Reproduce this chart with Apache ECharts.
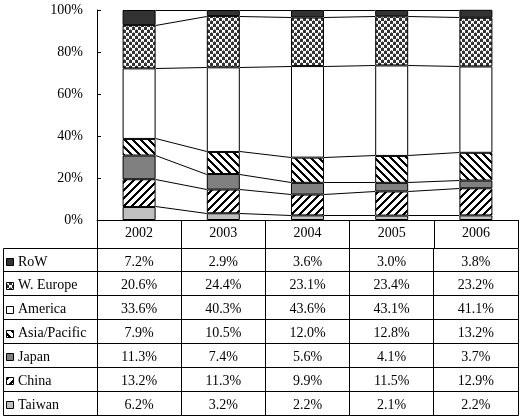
<!DOCTYPE html>
<html><head><meta charset="utf-8">
<script src="https://cdn.jsdelivr.net/npm/echarts@6/dist/echarts.min.js"></script>
<style>html,body{margin:0;padding:0;background:#fff}#c{width:523px;height:419px}</style>
</head><body><div id="c"></div>
<script>
// ---- data ----
const years = ['2002', '2003', '2004', '2005', '2006'];
const rowNames = ['RoW', 'W. Europe', 'America', 'Asia/Pacific', 'Japan', 'China', 'Taiwan'];
const RoW = [7.2, 2.9, 3.6, 3.0, 3.8];
const WEurope = [20.6, 24.4, 23.1, 23.4, 23.2];
const America = [33.6, 40.3, 43.6, 43.1, 41.1];
const AsiaPacific = [7.9, 10.5, 12.0, 12.8, 13.2];
const Japan = [11.3, 7.4, 5.6, 4.1, 3.7];
const China = [13.2, 11.3, 9.9, 11.5, 12.9];
const Taiwan = [6.2, 3.2, 2.2, 2.1, 2.2];
const yTickValues = [0, 20, 40, 60, 80, 100];

// ---- patterns ----
function makePattern(size, fn) {
  const c = document.createElement('canvas');
  c.width = c.height = size;
  const ctx = c.getContext('2d');
  const img = ctx.createImageData(size, size);
  for (let y = 0; y < size; y++) for (let x = 0; x < size; x++) {
    const v = fn(x, y);
    const o = (y * size + x) * 4;
    img.data[o] = v[0]; img.data[o + 1] = v[1]; img.data[o + 2] = v[2]; img.data[o + 3] = 255;
  }
  ctx.putImageData(img, 0, 0);
  return { image: c, repeat: 'repeat' };
}
const BLK = [0, 0, 0], WHT = [255, 255, 255], DRK = [51, 51, 51], MID = [136, 136, 136];
const patBack = makePattern(8, (x, y) => (((x - y) % 8 + 8) % 8) < 3 ? BLK : WHT);
const patFwd = makePattern(8, (x, y) => ((x + y) % 8) < 3 ? BLK : WHT);
const patDots = makePattern(6, (x, y) => {
  const bx = Math.floor(x / 3), by = Math.floor(y / 3);
  if ((bx + by) % 2 === 0) {
    const lx = x % 3, ly = y % 3;
    if (lx === 1 && ly === 2) return MID;
    return WHT;
  }
  return DRK;
});

const fills = {
  'RoW': '#333333',
  'W. Europe': patDots,
  'America': '#ffffff',
  'Asia/Pacific': patBack,
  'Japan': '#808080',
  'China': patFwd,
  'Taiwan': '#c0c0c0'
};
const rowValues = [RoW, WEurope, America, AsiaPacific, Japan, China, Taiwan];

// stacking order bottom -> top
const stackNames = ['Taiwan', 'China', 'Japan', 'Asia/Pacific', 'America', 'W. Europe', 'RoW'];
const stackVals = [Taiwan, China, Japan, AsiaPacific, America, WEurope, RoW];
const BAR_W = 33;
const FONT = '14px "Liberation Serif"';

const cum = [];
let run = years.map(() => 0);
stackVals.forEach(arr => { run = run.map((v, i) => v + arr[i]); cum.push(run.slice()); });
const lineData = [];
cum.forEach(c => { for (let i = 0; i < years.length - 1; i++) lineData.push([i, Math.min(c[i], 100), Math.min(c[i + 1], 100)]); });

const cellData = [], cellText = [];
rowValues.forEach((arr, r) => arr.forEach((v, c) => { cellData.push([c, r]); cellText.push(v.toFixed(1) + '%'); }));
const labelData = rowNames.map((n, r) => [0, r]);

const crisp = v => Math.round(v) + 0.5;

const barSeries = stackNames.map((n, k) => ({
  type: 'bar', name: n, stack: 'a', xAxisIndex: 0, yAxisIndex: 0,
  barWidth: BAR_W, data: stackVals[k],
  itemStyle: { color: fills[n], borderColor: '#000', borderWidth: 1 },
  emphasis: { disabled: true }
}));

const option = {
  animation: false,
  backgroundColor: '#fff',
  grid: [
    { left: 97, right: 5, top: 10, bottom: 199 },
    { left: 97, right: 5, top: 248, bottom: 4 }
  ],
  xAxis: [
    { type: 'category', gridIndex: 0, data: years,
      axisLine: { lineStyle: { color: '#000', width: 1 } },
      axisTick: { show: true, inside: false, length: 28, alignWithLabel: false, lineStyle: { color: '#000' } },
      axisLabel: { margin: 6, color: '#000', fontFamily: 'Liberation Serif', fontSize: 14 } },
    { type: 'category', gridIndex: 1, data: years, show: false }
  ],
  yAxis: [
    { type: 'value', gridIndex: 0, min: 0, max: 100, interval: 20,
      axisLine: { show: true, lineStyle: { color: '#000' } },
      axisTick: { show: true, inside: true, length: 4, lineStyle: { color: '#000' } },
      splitLine: { show: false },
      axisLabel: { margin: 14, color: '#000', fontFamily: 'Liberation Serif', fontSize: 14,
        formatter: v => yTickValues.indexOf(v) >= 0 ? v + '%' : '' } },
    { type: 'category', gridIndex: 1, data: rowNames, inverse: true, show: false }
  ],
  series: barSeries.concat([
    { type: 'custom', xAxisIndex: 0, yAxisIndex: 0, data: lineData, z: 5, silent: true,
      encode: { x: 0, y: [1, 2] },
      renderItem: (params, api) => {
        const i = api.value(0);
        const p1 = api.coord([i, api.value(1)]);
        const p2 = api.coord([i + 1, api.value(2)]);
        return { type: 'line', shape: { x1: p1[0] + BAR_W / 2, y1: crisp(p1[1] - 0.5), x2: p2[0] - BAR_W / 2, y2: crisp(p2[1] - 0.5) },
          style: { stroke: '#000', lineWidth: 1 } };
      } },
    { type: 'custom', xAxisIndex: 1, yAxisIndex: 1, data: cellData, silent: true,
      encode: { x: 0, y: 1 },
      renderItem: (params, api) => {
        const p = api.coord([api.value(0), api.value(1)]);
        const s = api.size([1, 1]);
        const x0 = crisp(p[0] - s[0] / 2 - 0.5), x1 = crisp(p[0] + s[0] / 2 - 0.5);
        const y0 = crisp(p[1] - s[1] / 2 - 0.5), y1 = crisp(p[1] + s[1] / 2 - 0.5);
        return { type: 'group', children: [
          { type: 'rect', shape: { x: x0, y: y0, width: x1 - x0, height: y1 - y0 }, style: { fill: null, stroke: '#000', lineWidth: 1 } },
          { type: 'text', style: { x: p[0], y: p[1] + 2, text: cellText[params.dataIndex], align: 'center', verticalAlign: 'middle', font: FONT, fill: '#000' } }
        ] };
      } },
    { type: 'custom', xAxisIndex: 1, yAxisIndex: 1, data: labelData, silent: true,
      encode: { x: 0, y: 1 },
      renderItem: (params, api) => {
        const r = api.value(1);
        const p = api.coord([0, r]);
        const s = api.size([1, 1]);
        const left = 3.5, right = crisp(params.coordSys.x - 0.5);
        const y0 = crisp(p[1] - s[1] / 2 - 0.5), y1 = crisp(p[1] + s[1] / 2 - 0.5);
        const name = rowNames[params.dataIndex];
        const iy = Math.round(p[1] - 2) + 0.5;
        return { type: 'group', children: [
          { type: 'rect', shape: { x: left, y: y0, width: right - left, height: y1 - y0 }, style: { fill: null, stroke: '#000', lineWidth: 1 } },
          { type: 'rect', shape: { x: 6.5, y: iy, width: 7, height: 7 }, style: { fill: fills[name], stroke: '#000', lineWidth: 1 } },
          { type: 'text', style: { x: 18, y: p[1] + 2, text: name, align: 'left', verticalAlign: 'middle', font: FONT, fill: '#000' } }
        ] };
      } }
  ])
};
const chart = echarts.init(document.getElementById('c'), null, { renderer: 'canvas' });
chart.setOption(option);
</script>
</body></html>
